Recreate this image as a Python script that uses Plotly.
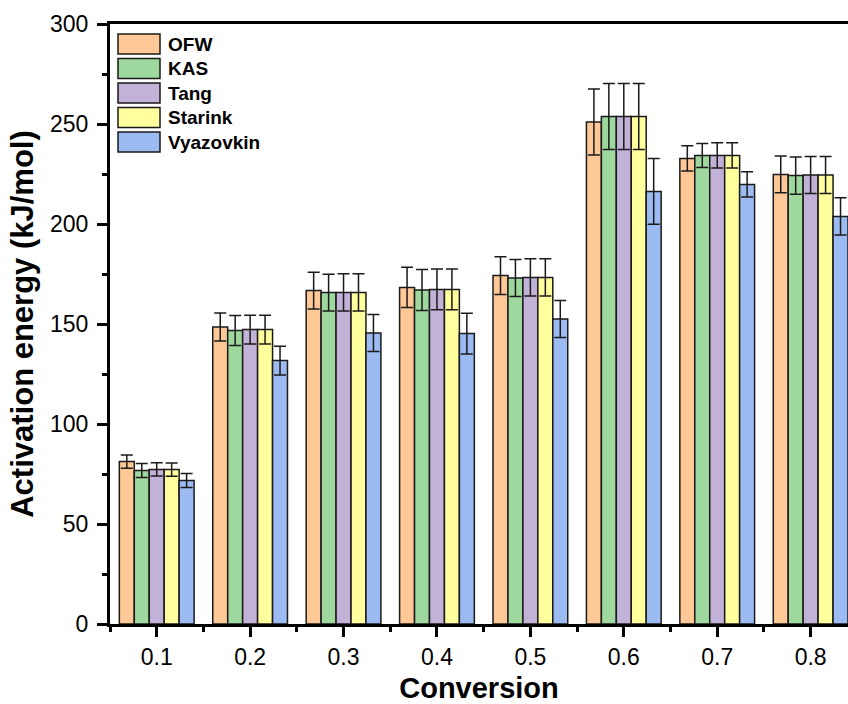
import plotly.graph_objects as go

conversion = ["0.1", "0.2", "0.3", "0.4", "0.5", "0.6", "0.7", "0.8"]
series_names = ["OFW", "KAS", "Tang", "Starink", "Vyazovkin"]

ofw = [81.2, 148.5, 166.7, 168.3, 174.2, 251.0, 232.8, 224.8]
kas = [76.7, 146.7, 165.7, 167.0, 173.0, 253.7, 234.2, 224.2]
tang = [77.3, 147.2, 165.8, 167.3, 173.3, 253.7, 234.3, 224.5]
starink = [77.2, 147.2, 165.8, 167.3, 173.3, 253.7, 234.3, 224.5]
vyazovkin = [71.7, 131.7, 145.5, 145.2, 152.5, 216.3, 219.8, 203.8]

ofw_err = [3.3, 7.0, 9.2, 10.1, 9.4, 16.5, 6.3, 9.2]
kas_err = [3.5, 7.5, 9.2, 10.2, 9.2, 16.5, 6.0, 9.3]
tang_err = [3.3, 7.2, 9.3, 10.2, 9.3, 16.5, 6.3, 9.3]
starink_err = [3.3, 7.2, 9.3, 10.2, 9.3, 16.5, 6.3, 9.3]
vyazovkin_err = [3.5, 7.2, 9.3, 10.2, 9.3, 16.4, 6.3, 9.3]

colors = ["#FFC896", "#9ED89E", "#C3B2D8", "#FFFF9E", "#9DBBF3"]

values = [ofw, kas, tang, starink, vyazovkin]
errors = [ofw_err, kas_err, tang_err, starink_err, vyazovkin_err]

x_idx = list(range(len(conversion)))

fig = go.Figure()
for name, vals, errs, col in zip(series_names, values, errors, colors):
    fig.add_trace(go.Bar(
        x=x_idx, y=vals, name=name,
        marker=dict(color=col, line=dict(color="#1a1a1a", width=1.5)),
        error_y=dict(type="data", array=errs, visible=True,
                     color="#1a1a1a", thickness=1.5, width=6),
        showlegend=False,
    ))

W, H = 848, 704
L, R, T, B = 110, 0, 24, 80
pw, ph = W - L - R, H - T - B

def xp(px):
    return (px - L) / pw

def yp(py):
    return (H - B - py) / ph

# manual legend (large swatches like the original)
for k, (name, col) in enumerate(zip(series_names, colors)):
    top = 34 + 24.5 * k
    fig.add_shape(type="rect", xref="paper", yref="paper",
                  x0=xp(118), x1=xp(160), y0=yp(top + 20), y1=yp(top),
                  fillcolor=col, line=dict(color="#1a1a1a", width=1.5))
    fig.add_annotation(xref="paper", yref="paper", x=xp(166), y=yp(top + 10),
                       text="<b>%s</b>" % name, showarrow=False,
                       xanchor="left", yanchor="middle",
                       font=dict(family="Liberation Sans, Arial", size=19, color="black"))

axis_font = dict(family="Liberation Sans, Arial", size=23, color="black")

fig.update_layout(
    width=W, height=H,
    margin=dict(l=L, r=R, t=T, b=B),
    paper_bgcolor="white", plot_bgcolor="white",
    barmode="group", bargap=0.2, bargroupgap=0,
    font=axis_font,
    xaxis=dict(
        range=[-0.5, 7.4],
        tickmode="array", tickvals=x_idx, ticktext=conversion,
        ticks="outside", ticklen=10, tickwidth=3, tickcolor="black",
        minor=dict(tickmode="array",
                   tickvals=[i - 0.5 for i in range(len(conversion) + 1)],
                   ticks="outside", ticklen=5, tickwidth=3, tickcolor="black"),
        showline=True, linewidth=3, linecolor="black", mirror=True,
        showgrid=False, zeroline=False,
        tickfont=axis_font,
        title=dict(text="<b>Conversion</b>", standoff=10,
                   font=dict(family="Liberation Sans, Arial", size=29, color="black")),
    ),
    yaxis=dict(
        range=[0, 300], dtick=50,
        ticks="outside", ticklen=10, tickwidth=3, tickcolor="black",
        minor=dict(dtick=25, ticks="outside", ticklen=5, tickwidth=3, tickcolor="black"),
        showline=True, linewidth=3, linecolor="black", mirror=False,
        showgrid=False, zeroline=False,
        tickfont=axis_font, ticklabelstandoff=4,
        title=dict(text="<b>Activation energy (kJ/mol)</b>", standoff=8,
                   font=dict(family="Liberation Sans, Arial", size=31, color="black")),
    ),
)

fig.write_html("out.html")
